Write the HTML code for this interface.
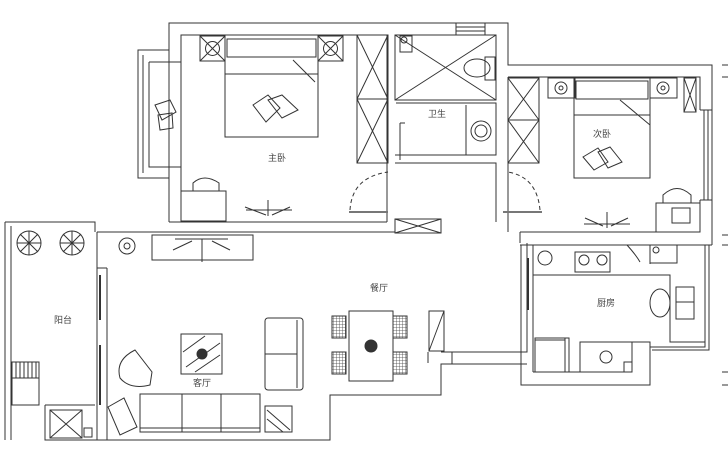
<!DOCTYPE html>
<html><head><meta charset="utf-8"><style>
html,body{margin:0;padding:0;background:#fff;}
svg{display:block}
text{font-family:"Liberation Sans","Noto Sans CJK SC",sans-serif;font-size:9px;fill:#444}
</style></head><body>
<svg width="728" height="450" viewBox="0 0 728 450" xmlns="http://www.w3.org/2000/svg">
<defs><pattern id="h" width="3" height="3" patternUnits="userSpaceOnUse"><path d="M0 0 H3 M0 0 V3" stroke="#444" stroke-width="0.8"/></pattern></defs>
<g fill="none" stroke="#333" stroke-width="1">
<!-- left bedroom -->
<path d="M169 222 V23 H395"/>
<path d="M181 222 V35 H357"/>
<path d="M169 50 H138 V178 H169"/><path d="M143 55 V173 M149 62 V167 H181 M149 62 H181"/>
<rect x="200" y="36" width="25" height="25"/><path d="M200 36 L225 61 M225 36 L200 61"/><circle cx="212.5" cy="48.5" r="7"/>
<rect x="318" y="36" width="25" height="25"/><path d="M318 36 L343 61 M343 36 L318 61"/><circle cx="330.5" cy="48.5" r="7"/>
<rect x="225" y="35" width="93" height="102"/><path d="M225 74 H318 M293 60 L315 82 M227 39 H316 V57 H227 Z"/>
<path d="M253 105 L268 95 L280 108 L266 122 Z M268 100 L282 95 L298 110 L282 118 Z"/>
<path d="M155 105 L170 100 L176 112 L162 120 Z M158 115 L172 113 L173 128 L160 130 Z"/>
<rect x="181" y="191" width="45" height="30"/><path d="M193 191 V183 Q204 173 219 183 V191"/>
<path d="M246 210 H292 M268 200 V216 M245 207 L266 215 M290 207 L272 215"/>
<!-- wardrobe left -->
<rect x="357" y="35" width="31" height="128"/><path d="M357 99 H388 M357 35 L388 99 M388 35 L357 99 M357 99 L388 163 M388 99 L357 163"/>
<!-- bathroom -->
<path d="M395 23 H508 V65 H712 V245 M395 35 H496 V77"/>
<path d="M456 23 V35 M485 23 V35 M456 27 H485 M456 31 H485"/>
<rect x="395" y="35" width="101" height="65"/><path d="M395 35 L496 100 M496 35 L395 100"/>
<rect x="400" y="36" width="12" height="16"/><circle cx="404" cy="40" r="3"/>
<ellipse cx="477" cy="68" rx="13" ry="9"/><rect x="485" y="57" width="10" height="23"/>
<path d="M396 103 H496 V155 H395 M466 105 V155"/><circle cx="481" cy="131" r="10"/><circle cx="481" cy="131" r="6"/>
<path d="M400 123 V160" /><path d="M400 123 H405"/>
<path d="M387 163 V222 M395 163 H496 V222 M387 35 V163 M508 77 V222"/>
<!-- right bedroom -->
<path d="M508 77 H700 V110 M700 200 V232 M520 232 H700 M520 245 H712"/>
<rect x="508" y="78" width="31" height="85"/><path d="M508 120 H539 M508 78 L539 120 M539 78 L508 120 M508 120 L539 163 M539 120 L508 163"/>
<rect x="548" y="78" width="27" height="20"/><circle cx="561" cy="88" r="6"/><circle cx="561" cy="88" r="2"/>
<rect x="650" y="78" width="27" height="20"/><circle cx="663" cy="88" r="6"/><circle cx="663" cy="88" r="2"/>
<rect x="574" y="78" width="76" height="100"/><path d="M574 115 H650 M620 100 L650 125 M576 81 H648 V99 H576 Z"/>
<path d="M583 157 L598 148 L608 162 L594 170 Z M598 152 L610 147 L622 162 L608 168 Z"/>
<rect x="684" y="78" width="12" height="34"/><path d="M684 78 L696 112 M696 78 L684 112"/>
<path d="M700 110 H712 M700 200 H712 M704 110 V200 M708 110 V200"/>
<rect x="656" y="203" width="44" height="29"/><path d="M663 203 V195 Q677 182 691 195 V203"/><rect x="672" y="208" width="18" height="15"/>
<path d="M584 224 H630 M607 212 V228 M585 218 L603 226 M628 218 L611 226"/>
<!-- corridor doors -->
<path d="M349 212 H388 M503 212 H542" stroke-width="2" stroke="#777"/>
<path d="M350 210 Q352 177 388 172 M540 210 Q537 177 508 172" stroke-dasharray="4 3"/>
<rect x="395" y="219" width="46" height="14"/><path d="M395 219 L441 233 M441 219 L395 233"/>
<!-- living -->
<path d="M97 232 H395 M169 222 H387 M97 232 V440 M107 268 V440 M107 268 H97"/>
<path d="M5 222 H95 V232 M5 222 V440 M11 226 V440"/>
<path d="M100 275 V320 M100 345 V405" stroke-width="2"/>
<path d="M45 405 V440 H330 V395 H441 V364 H527 M441 352 H527 V243 M452 352 V364 M428 352 V363"/>
<path d="M520 232 V243 M508 222 V232"/>
<rect x="152" y="235" width="101" height="25"/><path d="M175 239 H228 M202 239 V262 M173 250 L192 241 M230 250 L212 241"/>
<circle cx="127" cy="246" r="8"/><circle cx="127" cy="246" r="3"/>
<rect x="181" y="334" width="41" height="40"/><path d="M183 352 L205 336 M186 367 L220 343 M195 372 L220 355"/><circle cx="202" cy="354" r="5" fill="#333"/>
<path d="M135 350 Q115 360 120 378 Q130 390 150 385 L152 372 Z"/>
<rect x="265" y="318" width="38" height="72" rx="3"/><path d="M265 354 H297 M297 320 V388"/>
<rect x="140" y="394" width="120" height="38"/><path d="M182 394 V432 M221 394 V432 M140 428 H260"/>
<rect x="265" y="406" width="27" height="26"/><path d="M267 410 L290 430 M267 419 L283 432"/>
<path d="M108 407 L124 398 L137 427 L120 435 Z"/>
<path d="M45 405 H95 M45 440 V405"/><rect x="50" y="410" width="32" height="28"/><path d="M50 410 L82 438 M82 410 L50 438"/>
<rect x="84" y="428" width="8" height="9"/>
<rect x="12" y="362" width="27" height="43"/><path d="M12 378 H39 M16 362 V378 M20 362 V378 M24 362 V378 M28 362 V378 M32 362 V378 M36 362 V378"/>
<g><circle cx="29" cy="243" r="12"/><path d="M17 243 H41 M29 231 V255 M20 234 L38 252 M38 234 L20 252"/><circle cx="72" cy="243" r="12"/><path d="M60 243 H84 M72 231 V255 M63 234 L81 252 M81 234 L63 252"/></g>
<!-- dining -->
<rect x="349" y="311" width="44" height="70"/>
<rect x="332" y="316" width="14" height="22" fill="url(#h)"/><rect x="332" y="352" width="14" height="22" fill="url(#h)"/>
<rect x="393" y="316" width="14" height="22" fill="url(#h)"/><rect x="393" y="352" width="14" height="22" fill="url(#h)"/>
<circle cx="371" cy="346" r="6" fill="#333"/>
<rect x="429" y="311" width="15" height="40"/><path d="M429 351 L444 311"/>
<!-- kitchen -->
<path d="M533 245 V372 M533 245 H650 V264 M521 245 V372 M533 275 H670 V342 H705 V245 M670 275 V342"/>
<path d="M528 258 V310" stroke-width="2"/>
<path d="M650 245 V263 H677 V245"/><circle cx="656" cy="250" r="3"/>
<path d="M627 245 Q636 255 640 262"/>
<circle cx="545" cy="258" r="7"/>
<rect x="575" y="252" width="35" height="20"/><circle cx="584" cy="260" r="5"/><circle cx="602" cy="260" r="5"/>
<rect x="676" y="287" width="18" height="32"/><path d="M676 302 H694"/>
<ellipse cx="660" cy="303" rx="10" ry="14"/>
<path d="M705 245 V347 H650 M709 245 V350 H652"/>
<rect x="535" y="338" width="34" height="34"/><path d="M535 340 H565 M565 338 V372"/>
<rect x="580" y="342" width="52" height="30"/><circle cx="606" cy="357" r="6"/><rect x="624" y="362" width="8" height="10"/>
<path d="M632 342 H650 V385 H521 V364 M533 372 H632"/>
<!-- right edge marks -->
<path d="M722 65 H728 M722 77 H728 M722 235 H728 M722 245 H728 M722 372 H728 M722 385 H728"/>
</g>
<text x="268" y="161">主卧</text>
<text x="593" y="137">次卧</text>
<text x="428" y="117">卫生</text>
<text x="370" y="291">餐厅</text>
<text x="597" y="306">厨房</text>
<text x="193" y="386">客厅</text>
<text x="54" y="323">阳台</text>
</svg>
</body></html>
